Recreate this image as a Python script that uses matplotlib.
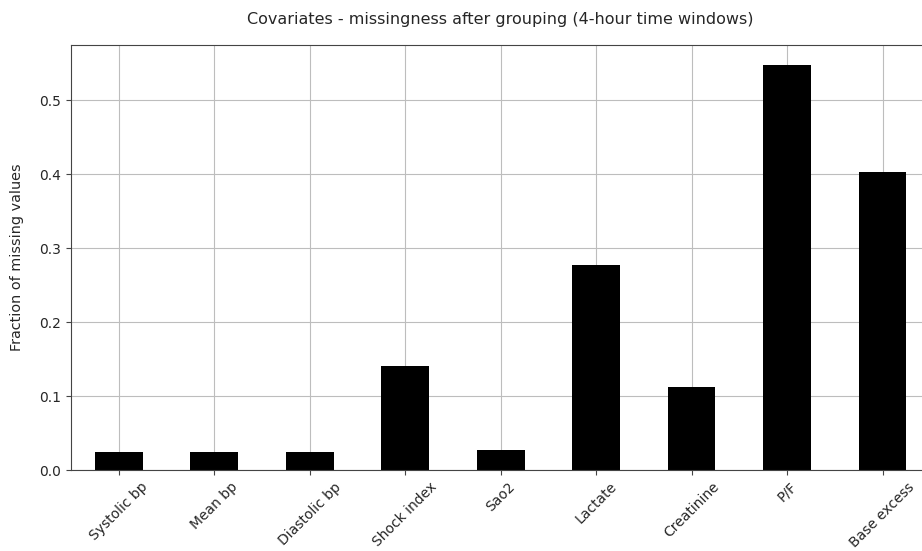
import matplotlib
matplotlib.use("Agg")
import matplotlib.pyplot as plt
import numpy as np

covariates = ["Systolic bp", "Mean bp", "Diastolic bp", "Shock index", "Sao2",
              "Lactate", "Creatinine", "P/F", "Base excess"]
missing_fraction = [0.0247, 0.0247, 0.0247, 0.1404, 0.0266,
                    0.2772, 0.1117, 0.5469, 0.4028]

fig = plt.figure(figsize=(9.22, 5.51), dpi=100)
ax = fig.add_axes([0.077, 0.147, 0.932, 0.771])

x = np.arange(len(covariates))
ax.bar(x, missing_fraction, width=0.5, color="black", zorder=2)
ax.set_xlim(-0.5, len(covariates) - 0.5)
ax.set_ylim(0, max(missing_fraction) * 1.05)
ax.set_xticks(x)
ax.set_xticklabels(covariates, rotation=45)
ax.set_yticks([0.0, 0.1, 0.2, 0.3, 0.4, 0.5])
ax.grid(True, color="#bdbdbd", linewidth=0.8, zorder=0)
ax.set_axisbelow(True)
for s in ax.spines.values():
    s.set_color("#444444")
ax.tick_params(colors="#444444", labelcolor="#262626")
ax.set_ylabel("Fraction of missing values", color="#262626",
              fontsize=10.4, labelpad=11)
ax.set_title("Covariates - missingness after grouping (4-hour time windows)",
             color="#262626", fontsize=11.5, pad=15)

fig.savefig("out.png", dpi=100)
